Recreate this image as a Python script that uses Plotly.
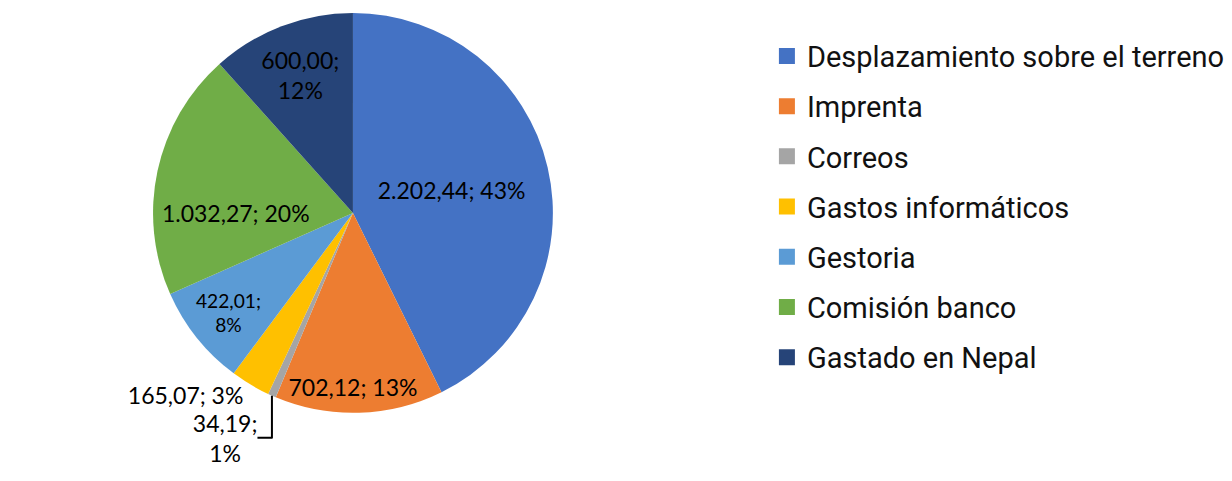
import plotly.graph_objects as go

categories = ["Desplazamiento sobre el terreno", "Imprenta", "Correos",
              "Gastos informáticos", "Gestoria", "Comisión banco", "Gastado en Nepal"]
values = [2202.44, 702.12, 34.19, 165.07, 422.01, 1032.27, 600.00]
pct_labels = ["43%", "13%", "1%", "3%", "8%", "20%", "12%"]
colors = ["#4472C4", "#ED7D31", "#A5A5A5", "#FFC000", "#5B9BD5", "#70AD47", "#264478"]
wrap = [False, False, True, False, True, False, True]
positions = ["inside", "inside", "outside", "outside", "inside", "inside", "inside"]


def fmt(v):
    s = f"{v:,.2f}"
    return s.replace(",", "X").replace(".", ",").replace("X", ".")


texts = [fmt(v) + (";<br>" if w else "; ") + p for v, p, w in zip(values, pct_labels, wrap)]

fig = go.Figure()
fig.add_trace(go.Pie(
    labels=categories, values=values, text=texts, textinfo="text",
    textposition=positions, insidetextorientation="horizontal",
    sort=False, direction="clockwise", rotation=0,
    marker=dict(colors=colors, line=dict(width=0)),
    textfont=dict(family="Lato, Carlito, sans-serif", size=23, color="black"),
    domain=dict(x=[0.10, 0.46], y=[0.16, 1.0]),
    showlegend=False, hoverinfo="label+value+percent",
))

for i, (c, col) in enumerate(zip(categories, colors)):
    fig.add_trace(go.Scatter(
        x=[None], y=[None], mode="markers", name=c, legendgroup=f"g{i}",
        marker=dict(symbol="square", size=16, color=col),
        showlegend=True,
    ))

fig.update_layout(
    width=1232, height=481,
    margin=dict(l=0, r=0, t=0, b=0),
    paper_bgcolor="white", plot_bgcolor="white",
    xaxis=dict(visible=False), yaxis=dict(visible=False),
    legend=dict(x=0.616, y=0.963, xanchor="left", yanchor="top",
                font=dict(family="Roboto", size=29, color="#111111"),
                tracegroupgap=9.5, itemsizing="trace", bgcolor="rgba(0,0,0,0)"),
    uniformtext=dict(minsize=10),
)

fig.write_html("out.html")
